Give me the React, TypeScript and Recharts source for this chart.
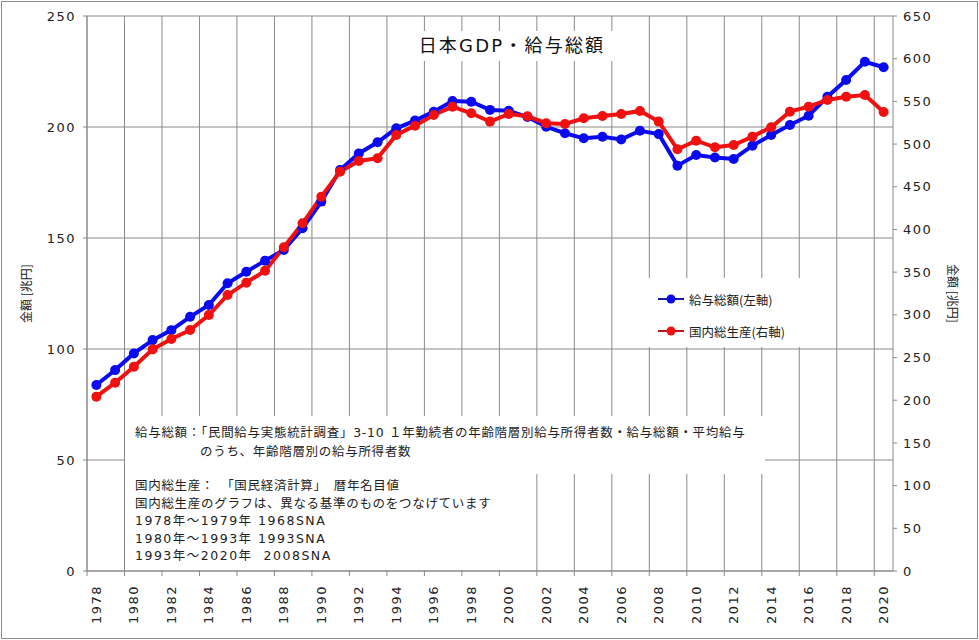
import React from 'react';
import { ComposedChart, Line, XAxis, YAxis, CartesianGrid } from 'recharts';

// categories
const years = [
  1978, 1979, 1980, 1981, 1982, 1983, 1984, 1985, 1986, 1987,
  1988, 1989, 1990, 1991, 1992, 1993, 1994, 1995, 1996, 1997,
  1998, 1999, 2000, 2001, 2002, 2003, 2004, 2005, 2006, 2007,
  2008, 2009, 2010, 2011, 2012, 2013, 2014, 2015, 2016, 2017,
  2018, 2019, 2020,
];

// 給与総額 (左軸, 兆円)
const salaryTotal = [
  83.8, 90.5, 98.0, 104.0, 108.5, 114.5, 119.8, 129.6, 134.8, 139.8,
  144.6, 154.4, 166.4, 180.6, 188.1, 193.1, 199.4, 202.9, 206.9, 211.7,
  211.4, 207.7, 207.3, 204.5, 200.1, 197.2, 194.9, 195.6, 194.4, 198.3,
  196.8, 182.6, 187.4, 186.3, 185.6, 191.6, 196.4, 200.9, 205.1, 213.6,
  221.2, 229.4, 226.9,
];

// 国内総生産 (右軸, 兆円)
const gdp = [
  204.2, 220.5, 239.3, 259.6, 271.7, 282.3, 299.8, 323.3, 337.7, 351.7,
  379.1, 407.2, 438.4, 467.7, 480.2, 483.4, 510.7, 521.6, 534.1, 543.8,
  536.1, 526.3, 535.3, 532.5, 524.4, 523.6, 530.2, 532.9, 535.3, 538.8,
  526.3, 493.9, 504.0, 496.2, 498.9, 508.7, 519.7, 538.0, 543.8, 551.7,
  555.5, 557.5, 537.5,
];

// tick labels
const xTickYears = [
  1978, 1980, 1982, 1984, 1986, 1988, 1990, 1992, 1994, 1996, 1998,
  2000, 2002, 2004, 2006, 2008, 2010, 2012, 2014, 2016, 2018, 2020,
];
const leftTicks = [0, 50, 100, 150, 200, 250];
const rightTicks = [0, 50, 100, 150, 200, 250, 300, 350, 400, 450, 500, 550, 600, 650];

const seriesNames = { salary: '給与総額(左軸)', gdp: '国内総生産(右軸)' };
const titleText = '日本GDP・給与総額';
const axisTitle = '金額 [兆円]';
const noteLines1 = [
  '給与総額：「民間給与実態統計調査」3-10 １年勤続者の年齢階層別給与所得者数・給与総額・平均給与',
  'のうち、年齢階層別の給与所得者数',
];
const noteLines2 = [
  '国内総生産：　「国民経済計算」　暦年名目値',
  '国内総生産のグラフは、異なる基準のものをつなげています',
  '1978年～1979年 1968SNA',
  '1980年～1993年 1993SNA',
  '1993年～2020年  2008SNA',
];

const data = years.map((y, i) => ({ year: y, salary: salaryTotal[i], gdp: gdp[i] }));
const boundaryTicks = xTickYears.map((y) => y - 0.5);

const JP = '"Noto Sans CJK JP", "Noto Sans", sans-serif';
const NUM = '"DejaVu Sans", sans-serif';
const MIX = '"DejaVu Sans", "Noto Sans CJK JP", sans-serif';
const GRID = '#8a8a8a';
const BLUE = '#0a0af0';
const RED = '#f01010';

const YearTick = (props: any) => {
  const { x, y, payload } = props;
  return (
    <text
      x={x}
      y={y}
      transform={`rotate(-90 ${x} ${y})`}
      textAnchor="end"
      dominantBaseline="central"
      fill="#222"
      fontSize={13}
      fontFamily={NUM}
      style={{ letterSpacing: '1.5px' }}
    >
      {payload.value}
    </text>
  );
};

const EmptyTick = () => <g />;

const legendItems = [
  { name: seriesNames.salary, line: '#1a1a9a', dot: BLUE },
  { name: seriesNames.gdp, line: '#c01818', dot: RED },
];

const tickStyle = {
  fill: '#222',
  fontSize: 13,
  fontFamily: NUM,
  style: { letterSpacing: '1.5px' },
};

const noteStyle: React.CSSProperties = {
  position: 'absolute',
  fontSize: 12.5,
  lineHeight: '17px',
  color: '#222',
  whiteSpace: 'pre',
  letterSpacing: '0.7px',
  fontFamily: MIX,
};

export default function App() {
  return (
    <div
      style={{
        position: 'absolute',
        left: 0,
        top: 0,
        width: 979,
        height: 640,
        background: 'white',
        fontFamily: JP,
      }}
    >
      <ComposedChart
        width={979}
        height={640}
        data={data}
        margin={{ top: 16, right: 0, bottom: 13, left: 0 }}
      >
        <CartesianGrid
          xAxisId="grid"
          yAxisId="left"
          stroke={GRID}
          strokeWidth={1}
          horizontalValues={leftTicks}
          verticalValues={boundaryTicks}
        />
        <XAxis
          xAxisId="grid"
          dataKey="year"
          type="number"
          domain={[1977.5, 2020.5]}
          ticks={boundaryTicks}
          interval={0}
          tick={EmptyTick}
          tickSize={5}
          height={6}
          stroke={GRID}
        />
        <XAxis
          xAxisId="label"
          dataKey="year"
          type="number"
          domain={[1977.5, 2020.5]}
          ticks={xTickYears}
          interval={0}
          tick={<YearTick />}
          tickLine={false}
          axisLine={false}
          tickSize={0}
          tickMargin={8}
          height={50}
        />
        <YAxis
          yAxisId="left"
          domain={[0, 250]}
          ticks={leftTicks}
          interval={0}
          width={87}
          tickSize={4}
          tickMargin={7}
          stroke={GRID}
          tick={tickStyle}
          label={{
            value: axisTitle,
            angle: -90,
            position: 'insideLeft',
            offset: 27,
            style: { textAnchor: 'middle', fontSize: 12, fontFamily: JP, fill: '#222' },
          }}
        />
        <YAxis
          yAxisId="right"
          orientation="right"
          domain={[0, 650]}
          ticks={rightTicks}
          interval={0}
          width={86}
          tickSize={4}
          tickMargin={6}
          stroke={GRID}
          tick={tickStyle}
          label={{
            value: axisTitle,
            angle: 90,
            position: 'insideRight',
            offset: 27,
            style: { textAnchor: 'middle', fontSize: 12, fontFamily: JP, fill: '#222' },
          }}
        />
        <Line
          xAxisId="label"
          yAxisId="left"
          dataKey="salary"
          name={seriesNames.salary}
          stroke={BLUE}
          strokeWidth={4}
          dot={{ r: 5, fill: BLUE, stroke: BLUE, strokeWidth: 0 }}
          isAnimationActive={false}
        />
        <Line
          xAxisId="label"
          yAxisId="right"
          dataKey="gdp"
          name={seriesNames.gdp}
          stroke={RED}
          strokeWidth={4}
          dot={{ r: 5, fill: RED, stroke: RED, strokeWidth: 0 }}
          isAnimationActive={false}
        />
      </ComposedChart>

      {/* title */}
      <div
        style={{
          position: 'absolute',
          left: 410,
          top: 31,
          width: 204,
          height: 30,
          background: 'white',
          textAlign: 'center',
          lineHeight: '30px',
          fontSize: 18,
          letterSpacing: '2.2px',
          color: '#111',
          whiteSpace: 'nowrap',
          fontFamily: MIX,
        }}
      >
        {titleText}
      </div>

      {/* legend */}
      <div
        style={{
          position: 'absolute',
          left: 622,
          top: 278,
          width: 190,
          height: 69,
          background: 'white',
        }}
      >
        {legendItems.map((it, i) => (
          <div
            key={it.name}
            style={{
              position: 'absolute',
              left: 36,
              top: 12 + i * 32,
              height: 18,
              display: 'flex',
              alignItems: 'center',
              whiteSpace: 'nowrap',
            }}
          >
            <svg width={26} height={12} style={{ marginRight: 5 }}>
              <line x1={0} y1={6} x2={26} y2={6} stroke={it.line} strokeWidth={2} />
              <circle cx={13} cy={6} r={4.5} fill={it.dot} />
            </svg>
            <span style={{ fontFamily: JP, fontSize: 12.5, color: '#222' }}>{it.name}</span>
          </div>
        ))}
      </div>

      {/* notes */}
      <div
        style={{
          position: 'absolute',
          left: 125,
          top: 416,
          width: 640,
          height: 58,
          background: 'white',
        }}
      />
      <div
        style={{
          position: 'absolute',
          left: 125,
          top: 474,
          width: 385,
          height: 96,
          background: 'white',
        }}
      />
      <div style={{ ...noteStyle, left: 135, top: 424 }}>{noteLines1[0]}</div>
      <div style={{ ...noteStyle, left: 200, top: 443 }}>{noteLines1[1]}</div>
      {noteLines2.map((t, i) => (
        <div
          key={t}
          style={{
            ...noteStyle,
            left: 135,
            top: 477 + i * 17.5,
            letterSpacing: i >= 2 ? '1.5px' : '0.7px',
          }}
        >
          {t}
        </div>
      ))}

      {/* outer border */}
      <div
        style={{
          position: 'absolute',
          left: 1,
          top: 1,
          width: 975,
          height: 636,
          border: '1px solid #8a8a8a',
          pointerEvents: 'none',
        }}
      />
    </div>
  );
}
